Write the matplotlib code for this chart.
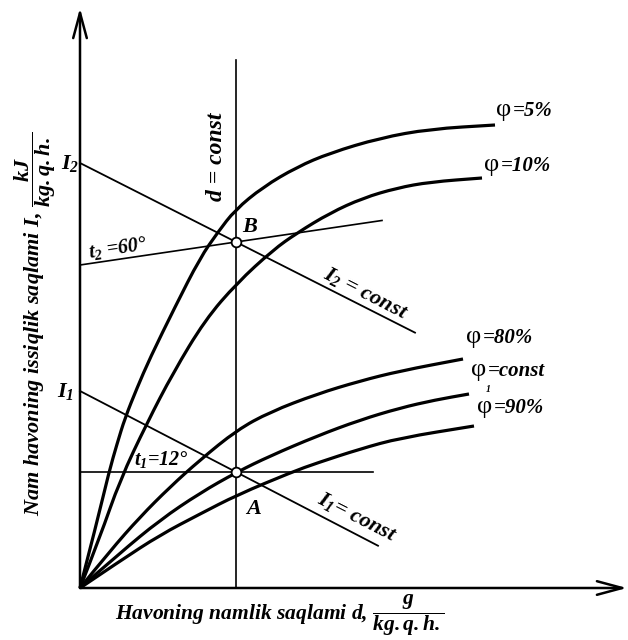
import numpy as np
import matplotlib.pyplot as plt
from matplotlib.patches import FancyArrowPatch, PathPatch
from matplotlib.path import Path

plt.rcParams["font.family"] = ["Liberation Serif", "DejaVu Serif"]
plt.rcParams["mathtext.fontset"] = "custom"
plt.rcParams["mathtext.it"] = "Liberation Serif:style=italic:weight=bold"
plt.rcParams["mathtext.rm"] = "Liberation Serif:style=italic:weight=bold"
plt.rcParams["mathtext.bf"] = "Liberation Serif:weight=bold"

# relative humidity curves, schematic units (d, I)
phi5_d = [0, 17, 29, 37, 45, 57, 70, 95, 120, 138, 155, 183, 217, 250, 300, 350, 415]
phi5_i = [0, 66, 116, 144, 170, 200, 230, 281, 330, 356, 378, 401, 421, 435, 450, 459, 463]
phi10_d = [0, 20, 40, 67, 93, 125, 157, 193, 217, 250, 283, 317, 350, 402]
phi10_i = [0, 51, 108, 165, 215, 268, 305, 338, 355, 375, 390, 400, 406, 410]
phi80_d = [0, 30, 60, 90, 120, 157, 190, 237, 280, 320, 383]
phi80_i = [0, 37, 71, 101, 128, 158, 176, 194, 207, 217, 229]
phi1_d = [0, 40, 80, 120, 157, 190, 237, 280, 320, 355, 389]
phi1_i = [0, 35, 68, 95, 116, 132, 152, 168, 180, 188, 194]
phi90_d = [0, 40, 80, 120, 157, 212, 237, 280, 320, 394]
phi90_i = [0, 27, 53, 74, 93, 116, 125, 139, 150, 162]

# state points
d_const = 156
i_b = 346          # point B
i_a = 116          # point A (t1 isotherm)
i_2 = 425          # I2 on the I axis
i_1 = 197          # I1 on the I axis
t2_start = 323     # t2 isotherm at d = 0


def smooth_curve(dd, ii):
    # quadratic bezier through midpoints of the read points
    pts = np.column_stack([dd, ii]).astype(float)
    verts = [pts[0]]
    codes = [Path.MOVETO]
    for k in range(1, len(pts) - 1):
        verts += [pts[k], (pts[k] + pts[k + 1]) / 2]
        codes += [Path.CURVE3, Path.CURVE3]
    verts.append(pts[-1])
    codes.append(Path.LINETO)
    return Path(verts, codes)


fig = plt.figure(figsize=(6.28, 6.40), dpi=100)
ax = fig.add_axes([0, 0, 1, 1])
ax.set_xlim(-80, 548)
ax.set_ylim(-52, 588)
ax.axis("off")

txt = dict(fontweight="bold", fontstyle="italic", color="black")

# axes with arrows
for start, end in [((0, 0), (0, 580)), ((0, 0), (547, 0))]:
    ax.add_patch(FancyArrowPatch(start, end, arrowstyle="->,head_length=1.3,head_width=0.35",
                                 mutation_scale=14, lw=1.8, color="black", shrinkA=0, shrinkB=0))

# curves
for dd, ii in [(phi5_d, phi5_i), (phi10_d, phi10_i), (phi80_d, phi80_i),
               (phi1_d, phi1_i), (phi90_d, phi90_i)]:
    ax.add_patch(PathPatch(smooth_curve(dd, ii), fill=False, edgecolor="black", lw=2.3,
                           capstyle="butt"))

# d = const
ax.plot([d_const, d_const], [0, 528], color="black", lw=1.2)

# I2 = const and t2 isotherm through B
k2 = (i_b - i_2) / d_const
ax.plot([0, 335], [i_2, i_2 + k2 * 335], color="black", lw=1.3)
kt2 = (i_b - t2_start) / d_const
ax.plot([0, 302], [t2_start, t2_start + kt2 * 302], color="black", lw=1.2)

# I1 = const and t1 isotherm through A
k1 = (i_a - i_1) / d_const
ax.plot([0, 298], [i_1, i_1 + k1 * 298], color="black", lw=1.3)
ax.plot([0, 293], [i_a, i_a], color="black", lw=1.2)

ax.plot([d_const, d_const], [i_b, i_a], "o", ms=7, mfc="white", mec="black", mew=1.3, zorder=5)

# curve labels
phi_labels = [("=5%", 416, 478), ("=10%", 404, 423), ("=80%", 386, 251),
              ("=const", 391, 218), ("=90%", 397, 181)]
for s, x, y in phi_labels:
    t = ax.text(x, y, "φ", fontsize=19, ha="left", va="center")
    ax.annotate(s, xy=(1, 0.45), xycoords=t, xytext=(1, 0), textcoords="offset points",
                ha="left", va="center", fontsize=15, **txt)
ax.text(408, 199, "1", fontsize=7, ha="center", va="center", **txt)

ax.text(-10, 425, r"$I_2$", fontsize=16, ha="center", va="center")
ax.text(-14, 197, r"$I_1$", fontsize=16, ha="center", va="center")
ax.text(170, 361, "B", fontsize=16, ha="center", va="center", **txt)
ax.text(174, 79, "A", fontsize=16, ha="center", va="center", **txt)
ax.text(38, 340, r"$t_2$ =60°", fontsize=14.5, ha="center", va="center", rotation=8.4, **txt)
ax.text(81, 128, r"$t_1$=12°", fontsize=14.5, ha="center", va="center", **txt)
ax.text(137, 431, "d = const", fontsize=17, ha="center", va="center", rotation=90, **txt)
ax.text(286, 295, r"$I_2$ = const", fontsize=16, ha="center", va="center", rotation=-27, **txt)
ax.text(277, 71, r"$I_1$= const", fontsize=16, ha="center", va="center", rotation=-27, **txt)

ax.text(-45, 264, r"Nam havoning issiqlik saqlami $I$, $\dfrac{kJ}{kg.q.h.}$",
        fontsize=16, ha="center", va="center", rotation=90, **txt)
ax.text(200, -27, r"Havoning namlik saqlami $d$, $\dfrac{g}{kg.q.h.}$",
        fontsize=15.5, ha="center", va="center", **txt)

fig.savefig("out.png", dpi=100)
